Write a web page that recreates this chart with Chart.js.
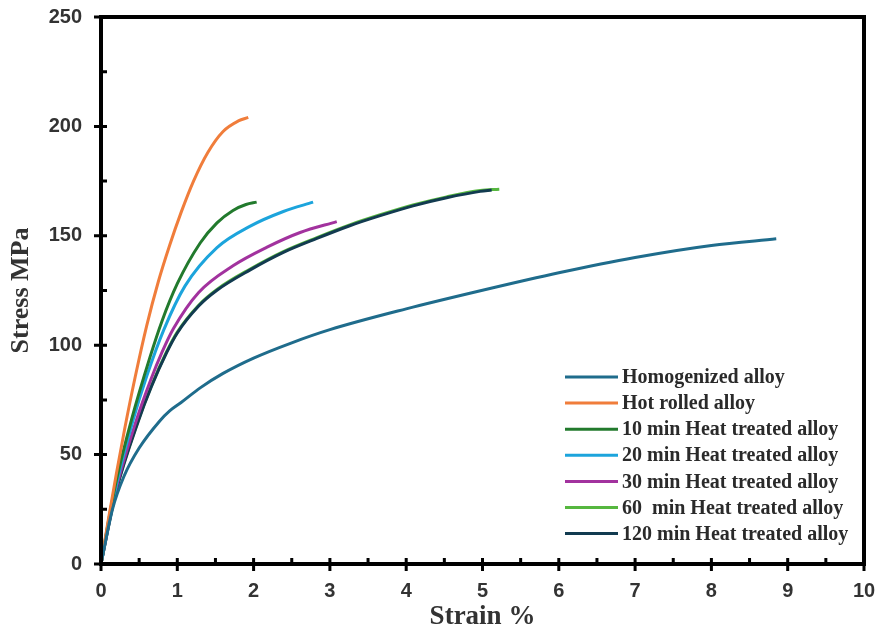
<!DOCTYPE html>
<html>
<head>
<meta charset="utf-8">
<script src="https://cdn.jsdelivr.net/npm/chart.js@4.4.1/dist/chart.umd.min.js"></script>
<style>
  html, body { margin: 0; padding: 0; background: #fff; }
  #wrap { width: 889px; height: 635px; position: relative; }
</style>
</head>
<body>
<div id="wrap"><canvas id="stressChart"></canvas></div>
<script>
// Curvas tensión-deformación
const seriesNames = ['Homogenized alloy', 'Hot rolled alloy', '10 min Heat treated alloy',
    '20 min Heat treated alloy', '30 min Heat treated alloy', '60  min Heat treated alloy',
    '120 min Heat treated alloy'];
const seriesColors = ['#1f6c8c', '#f07d3b', '#227a2d', '#1ca4dc', '#a2329e', '#56b73f', '#123b50'];

const homStrain = [0, 0.15, 0.3, 0.5, 0.77, 0.9, 1.05, 1.3, 1.6, 2, 2.5, 3, 4, 5, 6, 7, 8, 8.85];
const homStress = [0, 25, 40, 53, 65.4, 70, 73.8, 80.5, 87.1, 94.1, 101.1, 107.1, 116.6, 125.1, 133.1, 140.1, 145.6, 148.6];

const hotStrain = [0, 0.1, 0.2, 0.31, 0.45, 0.6, 0.75, 0.9, 1.05, 1.21, 1.4, 1.6, 1.8, 1.93];
const hotStress = [0, 21, 41, 61.7, 85.8, 109.1, 128.9, 145.7, 160.7, 174.8, 188.1, 197.7, 202.5, 204.1];

const ht10Strain = [0, 0.1, 0.2, 0.4, 0.64, 0.8, 1.0, 1.3, 1.52, 1.73, 1.9, 2.04];
const ht10Stress = [0, 20, 38, 66, 94.3, 111.1, 128.1, 146.7, 155.9, 161.6, 164.3, 165.4];

const ht20Strain = [0, 0.1, 0.2, 0.42, 0.6, 0.82, 1.1, 1.52, 1.95, 2.39, 2.78];
const ht20Stress = [0, 19, 36, 65.7, 85.9, 106.8, 127, 144.6, 154.3, 161.1, 165.4];

const ht30Strain = [0, 0.1, 0.2, 0.47, 0.65, 0.8, 0.95, 1.28, 1.73, 2.17, 2.61, 3.09];
const ht30Stress = [0, 18, 34.5, 66.4, 84, 96.8, 107.6, 124.1, 136.3, 144.7, 151.5, 156.5];

const ht60Strain = [0, 0.1, 0.2, 0.49, 0.66, 0.86, 1.0, 1.28, 1.52, 1.95, 2.39, 2.83, 3.26, 3.66, 4.09, 4.53, 4.97, 5.22];
const ht60Stress = [0, 17.9, 33.9, 65.8, 81.4, 97, 106, 118.3, 125.5, 134.7, 142.8, 149.2, 155, 159.6, 164.1, 167.8, 170.7, 171.3];

const ht120Strain = [0, 0.1, 0.2, 0.49, 0.66, 0.86, 1.0, 1.28, 1.52, 1.95, 2.39, 2.83, 3.26, 3.66, 4.09, 4.53, 4.97, 5.12];
const ht120Stress = [0, 17.5, 33.5, 65.4, 81, 96.6, 105.6, 117.9, 125.1, 134.3, 142.4, 148.8, 154.6, 159.2, 163.7, 167.4, 170.3, 170.9];

const xTicks = [0, 1, 2, 3, 4, 5, 6, 7, 8, 9, 10];
const yTicks = [0, 50, 100, 150, 200, 250];

const strainSets = [homStrain, hotStrain, ht10Strain, ht20Strain, ht30Strain, ht60Strain, ht120Strain];
const stressSets = [homStress, hotStress, ht10Stress, ht20Stress, ht30Stress, ht60Stress, ht120Stress];

function toPoints(xs, ys) {
    return xs.map((v, i) => ({ x: v, y: ys[i] }));
}

// Marco, marcas de eje y leyenda
const framePlugin = {
    id: 'framePlugin',
    afterDraw(chart) {
        const { ctx, chartArea: a, scales: { x, y } } = chart;
        ctx.save();
        ctx.strokeStyle = '#000';
        ctx.lineWidth = 4;
        ctx.lineCap = 'square';
        ctx.beginPath();
        ctx.moveTo(a.left, a.top);
        ctx.lineTo(a.right, a.top);
        ctx.lineTo(a.right, a.bottom);
        ctx.lineTo(a.left, a.bottom);
        ctx.closePath();
        ctx.stroke();

        ctx.lineWidth = 3;
        ctx.lineCap = 'butt';
        ctx.beginPath();
        for (let v = 0; v <= 10; v += 0.5) {
            const px = x.getPixelForValue(v);
            const major = Math.abs(v - Math.round(v)) < 1e-6;
            ctx.moveTo(px, a.bottom + (major ? 7 : 0));
            ctx.lineTo(px, a.bottom - 6);
        }
        for (let v = 0; v <= 250; v += 25) {
            const py = y.getPixelForValue(v);
            const major = v % 50 === 0;
            ctx.moveTo(a.left - (major ? 7 : 0), py);
            ctx.lineTo(a.left + 6, py);
        }
        ctx.stroke();

        // leyenda
        const lx = 565, ly = 377, step = 26.1;
        ctx.font = 'bold 20px "Liberation Serif", "Times New Roman", serif';
        ctx.textBaseline = 'middle';
        ctx.fillStyle = '#2a2a2a';
        chart.data.datasets.forEach((ds, i) => {
            const yy = ly + i * step;
            ctx.strokeStyle = ds.borderColor;
            ctx.lineWidth = 3;
            ctx.beginPath();
            ctx.moveTo(lx, yy);
            ctx.lineTo(lx + 53, yy);
            ctx.stroke();
            ctx.fillText(ds.label, lx + 57, yy + 1);
        });
        ctx.restore();
    }
};

function initChart() {
    const ctx = document.getElementById('stressChart');
    new Chart(ctx.getContext('2d'), {
        type: 'line',
        data: {
            datasets: seriesNames.map((name, i) => ({
                label: name,
                data: toPoints(strainSets[i], stressSets[i]),
                borderColor: seriesColors[i],
                backgroundColor: seriesColors[i],
                borderWidth: 3,
                pointRadius: 0,
                fill: false,
                cubicInterpolationMode: 'monotone',
                order: i === 5 ? 2 : 1
            }))
        },
        options: {
            responsive: true,
            maintainAspectRatio: false,
            animation: false,
            layout: { padding: { top: 17, right: 25, left: 0, bottom: 0 } },
            plugins: {
                legend: { display: false },
                tooltip: { enabled: false }
            },
            scales: {
                x: {
                    type: 'linear',
                    min: 0,
                    max: 10,
                    afterFit: s => { s.height = 71; s.paddingLeft = 0; s.paddingRight = 0; },
                    afterBuildTicks: s => { s.ticks = xTicks.map(v => ({ value: v })); },
                    grid: { display: false, drawTicks: false },
                    border: { display: false },
                    ticks: {
                        padding: 15,
                        color: '#333',
                        font: { family: '"Liberation Sans", Arial, sans-serif', size: 20, weight: 'bold' }
                    },
                    title: {
                        display: true,
                        text: 'Strain %',
                        color: '#333',
                        padding: { top: 0, bottom: 2 },
                        font: { family: '"Liberation Serif", "Times New Roman", serif', size: 27, weight: 'bold' }
                    }
                },
                y: {
                    min: 0,
                    max: 250,
                    afterFit: s => { s.width = 101; s.paddingTop = 0; s.paddingBottom = 0; },
                    afterBuildTicks: s => { s.ticks = yTicks.map(v => ({ value: v })); },
                    grid: { display: false, drawTicks: false },
                    border: { display: false },
                    ticks: {
                        padding: 19,
                        color: '#333',
                        font: { family: '"Liberation Sans", Arial, sans-serif', size: 20, weight: 'bold' }
                    },
                    title: {
                        display: true,
                        text: 'Stress MPa',
                        color: '#333',
                        padding: { top: 6, bottom: 0 },
                        font: { family: '"Liberation Serif", "Times New Roman", serif', size: 26, weight: 'bold' }
                    }
                }
            }
        },
        plugins: [framePlugin]
    });
}

document.addEventListener('DOMContentLoaded', initChart);
</script>
</body>
</html>
